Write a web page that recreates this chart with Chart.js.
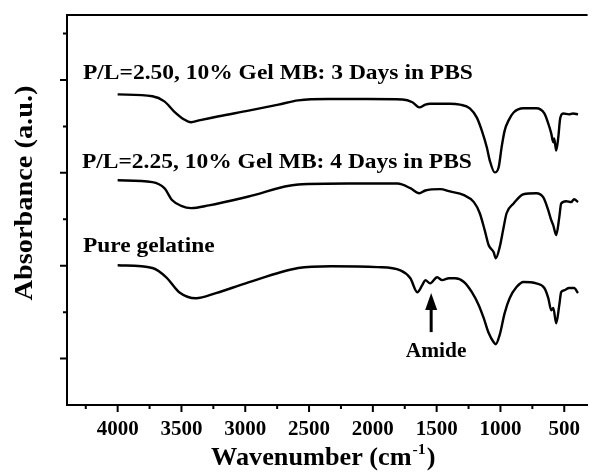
<!DOCTYPE html>
<html>
<head>
<meta charset="utf-8">
<script src="https://cdn.jsdelivr.net/npm/chart.js@4.4.1/dist/chart.umd.min.js"></script>
<style>
  html, body { margin: 0; padding: 0; background: #fff; }
  canvas { display: block; }
</style>
</head>
<body>
<canvas id="ftir" width="592" height="474"></canvas>
<script>
// wavenumber (cm-1) / absorbance (offset, a.u.)
const pl250Wavenumber = [4000, 3728, 3634, 3557, 3479, 3425, 3362, 3207, 2974, 2740, 2585, 2351, 2040, 1768, 1690, 1636, 1589, 1550, 1457, 1395, 1317, 1240, 1185, 1146, 1107, 1084, 1045, 1014, 991, 967, 936, 897, 820, 719, 656, 625, 602, 586, 579, 563, 547, 532, 509, 462, 431, 392];
const pl250Absorbance = [6.69, 6.65, 6.54, 6.32, 6.15, 6.09, 6.13, 6.22, 6.34, 6.47, 6.56, 6.59, 6.59, 6.58, 6.52, 6.41, 6.47, 6.49, 6.49, 6.49, 6.47, 6.39, 6.19, 5.91, 5.55, 5.27, 5.01, 5.12, 5.55, 5.91, 6.13, 6.30, 6.39, 6.39, 6.28, 6.06, 5.85, 5.66, 5.74, 5.48, 5.76, 6.17, 6.28, 6.26, 6.28, 6.26];

const pl225Wavenumber = [4000, 3728, 3634, 3572, 3502, 3425, 3285, 2974, 2585, 2196, 1807, 1706, 1636, 1589, 1473, 1395, 1286, 1208, 1162, 1123, 1092, 1053, 1037, 1006, 975, 952, 897, 820, 719, 664, 625, 602, 586, 563, 539, 524, 485, 446, 423, 392];
const pl225Absorbance = [4.84, 4.80, 4.67, 4.41, 4.29, 4.24, 4.30, 4.49, 4.75, 4.77, 4.77, 4.67, 4.56, 4.62, 4.65, 4.60, 4.52, 4.37, 4.13, 3.76, 3.44, 3.29, 3.16, 3.40, 3.83, 4.13, 4.34, 4.54, 4.56, 4.47, 4.19, 3.98, 3.87, 3.66, 4.04, 4.34, 4.39, 4.37, 4.43, 4.37];

const gelatineWavenumber = [4000, 3728, 3619, 3518, 3386, 3230, 2997, 2585, 2328, 1963, 1784, 1706, 1652, 1613, 1589, 1551, 1496, 1457, 1403, 1356, 1286, 1224, 1170, 1131, 1092, 1053, 1037, 1006, 967, 928, 874, 820, 719, 656, 625, 602, 586, 563, 539, 524, 501, 462, 423, 392];
const gelatineAbsorbance = [3.01, 2.95, 2.75, 2.43, 2.30, 2.41, 2.62, 2.95, 2.99, 2.97, 2.90, 2.73, 2.43, 2.58, 2.69, 2.62, 2.75, 2.69, 2.73, 2.73, 2.65, 2.43, 2.15, 1.87, 1.55, 1.35, 1.31, 1.51, 1.98, 2.30, 2.54, 2.65, 2.62, 2.52, 2.30, 2.04, 2.09, 1.76, 2.15, 2.43, 2.47, 2.52, 2.52, 2.41];

const xMajorTicks = [4000, 3500, 3000, 2500, 2000, 1500, 1000, 500];
const xMinorTicks = [4250, 3750, 3250, 2750, 2250, 1750, 1250, 750];
const yMajorTicks = [1, 3, 5, 7];
const yMinorTicks = [2, 4, 6, 8];

const seriesLabels = ['P/L=2.50, 10% Gel MB: 3 Days in PBS', 'P/L=2.25, 10% Gel MB: 4 Days in PBS', 'Pure gelatine'];

const SERIF = '"Liberation Serif", "Times New Roman", serif';

function toPoints(xs, ys) {
  return xs.map((x, i) => ({ x: x, y: ys[i] }));
}

function lineSet(label, xs, ys) {
  return {
    label: label,
    data: toPoints(xs, ys),
    borderColor: '#000',
    borderWidth: 2.4,
    pointRadius: 0,
    fill: false,
    cubicInterpolationMode: 'monotone'
  };
}

// the original lettering is a little wider than Liberation Serif
function wideText(ctx, text, x, y, sx) {
  ctx.save();
  ctx.translate(x, y);
  ctx.scale(sx, 1);
  ctx.fillText(text, 0, 0);
  ctx.restore();
}

// frame top, tick marks, titles, labels and the amide arrow
const decorations = {
  id: 'decorations',
  afterDraw(chart) {
    const ctx = chart.ctx;
    const { left, right, top, bottom } = chart.chartArea;
    const xs = chart.scales.x;
    const ys = chart.scales.y;
    ctx.save();
    ctx.strokeStyle = '#000';
    ctx.fillStyle = '#000';

    ctx.lineWidth = 2;
    ctx.beginPath();
    ctx.moveTo(left - 1, top);
    ctx.lineTo(right, top);
    ctx.stroke();

    ctx.beginPath();
    xMajorTicks.forEach(v => { const p = xs.getPixelForValue(v); ctx.moveTo(p, bottom); ctx.lineTo(p, bottom + 7); });
    xMinorTicks.forEach(v => { const p = xs.getPixelForValue(v); ctx.moveTo(p, bottom); ctx.lineTo(p, bottom + 4); });
    yMajorTicks.forEach(v => { const p = ys.getPixelForValue(v); ctx.moveTo(left, p); ctx.lineTo(left - 7, p); });
    yMinorTicks.forEach(v => { const p = ys.getPixelForValue(v); ctx.moveTo(left, p); ctx.lineTo(left - 4, p); });
    ctx.stroke();

    // series labels
    ctx.font = 'bold 22px ' + SERIF;
    ctx.textAlign = 'left';
    ctx.textBaseline = 'alphabetic';
    wideText(ctx, seriesLabels[0], xs.getPixelForValue(4272), ys.getPixelForValue(7.03), 1.068);
    wideText(ctx, seriesLabels[1], xs.getPixelForValue(4280), ys.getPixelForValue(5.10), 1.068);
    wideText(ctx, seriesLabels[2], xs.getPixelForValue(4272), ys.getPixelForValue(3.29), 1.065);

    // amide arrow
    const ax = xs.getPixelForValue(1543);
    const tip = ys.getPixelForValue(2.41);
    const tail = ys.getPixelForValue(1.57);
    ctx.lineWidth = 3;
    ctx.beginPath();
    ctx.moveTo(ax, tail);
    ctx.lineTo(ax, tip + 12);
    ctx.stroke();
    ctx.beginPath();
    ctx.moveTo(ax, tip);
    ctx.lineTo(ax - 6, tip + 17);
    ctx.lineTo(ax + 6, tip + 17);
    ctx.closePath();
    ctx.fill();
    ctx.font = 'bold 20px ' + SERIF;
    ctx.textAlign = 'center';
    wideText(ctx, 'Amide', xs.getPixelForValue(1504), ys.getPixelForValue(1.03), 1.07);

    // x title with superscript
    const sx = 1.05;
    const main = 'Wavenumber (cm';
    const sup = '-1';
    const close = ')';
    ctx.textAlign = 'left';
    ctx.font = 'bold 25px ' + SERIF;
    const wMain = ctx.measureText(main).width * sx;
    const wClose = ctx.measureText(close).width * sx;
    ctx.font = 'bold 15px ' + SERIF;
    const wSup = ctx.measureText(sup).width * sx;
    const cx = (left + right) / 2 - 4;
    const x0 = cx - (wMain + wSup + wClose + 2) / 2;
    const base = 465;
    ctx.font = 'bold 25px ' + SERIF;
    wideText(ctx, main, x0, base, sx);
    ctx.font = 'bold 15px ' + SERIF;
    wideText(ctx, sup, x0 + wMain + 1, base - 11, sx);
    ctx.font = 'bold 25px ' + SERIF;
    wideText(ctx, close, x0 + wMain + wSup + 2, base, sx);

    // y title
    ctx.translate(25, (top + bottom) / 2 - 17);
    ctx.rotate(-Math.PI / 2);
    ctx.scale(1.09, 1);
    ctx.font = 'bold 26px ' + SERIF;
    ctx.textAlign = 'center';
    ctx.textBaseline = 'middle';
    ctx.fillText('Absorbance (a.u.)', 0, 0);
    ctx.restore();
  }
};

new Chart(document.getElementById('ftir'), {
  type: 'line',
  data: {
    datasets: [
      lineSet(seriesLabels[0], pl250Wavenumber, pl250Absorbance),
      lineSet(seriesLabels[1], pl225Wavenumber, pl225Absorbance),
      lineSet(seriesLabels[2], gelatineWavenumber, gelatineAbsorbance)
    ]
  },
  options: {
    responsive: false,
    devicePixelRatio: 1,
    animation: false,
    layout: { padding: { top: 15, right: 0, left: 0, bottom: 0 } },
    plugins: { legend: { display: false }, tooltip: { enabled: false } },
    scales: {
      x: {
        type: 'linear',
        reverse: true,
        min: 317,
        max: 4397,
        afterBuildTicks: s => { s.ticks = xMajorTicks.map(v => ({ value: v })); },
        afterFit: s => { s.height = 69; },
        grid: { display: false, drawTicks: false },
        border: { display: true, color: '#000', width: 2 },
        ticks: {
          autoSkip: false,
          maxRotation: 0,
          padding: 12,
          color: '#000',
          font: { family: SERIF, size: 21, weight: 'bold' },
          callback: v => String(v)
        }
      },
      y: {
        type: 'linear',
        min: 0,
        max: 8.4,
        afterFit: s => { s.width = 67; },
        grid: { display: false, drawTicks: false },
        border: { display: true, color: '#000', width: 2 },
        ticks: { display: false }
      }
    }
  },
  plugins: [decorations]
});
</script>
</body>
</html>
